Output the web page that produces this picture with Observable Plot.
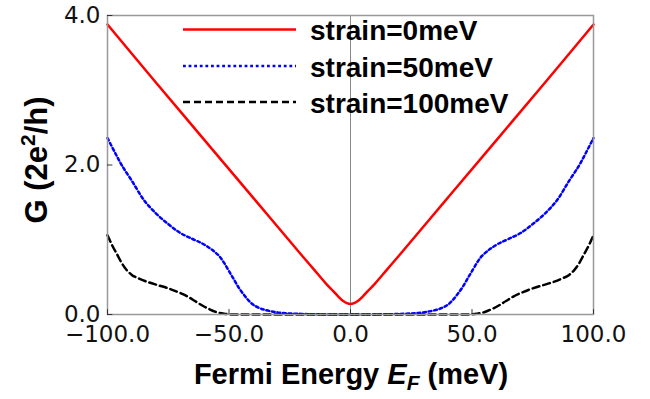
<!DOCTYPE html>
<html>
<head>
<meta charset="utf-8">
<script src="https://cdn.jsdelivr.net/npm/d3@7"></script>
<script src="https://cdn.jsdelivr.net/npm/@observablehq/plot@0.6"></script>
<style>
  html, body { margin: 0; padding: 0; background: white; }
  #chart { position: relative; width: 650px; height: 399px; }
</style>
</head>
<body>
<div id="chart"></div>
<script>
// ---- data ----
const xTicks = [-100, -50, 0, 50, 100];
const yTicks = [0, 2, 4];

const seriesNames = ["strain=0meV", "strain=50meV", "strain=100meV"];

const redE = [-100, -80, -60, -40, -20, -15, -10, -7, -5, -3, -1.5, 0, 1.5, 3, 5, 7, 10, 15, 20, 40, 60, 80, 100];
const redG = [3.88, 3.10, 2.33, 1.56, 0.79, 0.60, 0.41, 0.31, 0.24, 0.18, 0.152, 0.14, 0.152, 0.18, 0.24, 0.31, 0.41, 0.60, 0.79, 1.56, 2.33, 3.10, 3.88];

const blueE = [-100, -97, -94, -90, -85, -80, -75, -70, -65, -61, -58, -56, -54, -52, -50, -48, -46, -44, -42, -40, -37, -33, -28, -22, -15, 0,
               15, 22, 28, 33, 37, 40, 42, 44, 46, 48, 50, 52, 54, 56, 58, 61, 65, 70, 75, 80, 85, 90, 94, 97, 100];
const blueG = [2.36, 2.17, 1.99, 1.79, 1.53, 1.35, 1.21, 1.09, 1.01, 0.95, 0.89, 0.84, 0.78, 0.69, 0.58, 0.47, 0.36, 0.27, 0.19, 0.13, 0.08, 0.045, 0.02, 0.01, 0.003, 0.0,
               0.003, 0.01, 0.02, 0.045, 0.08, 0.13, 0.19, 0.27, 0.36, 0.47, 0.58, 0.69, 0.78, 0.84, 0.89, 0.95, 1.01, 1.09, 1.21, 1.35, 1.53, 1.79, 1.99, 2.17, 2.36];

const blackE = [-100, -98, -96, -94, -92, -90, -87, -83, -79, -75, -71, -67, -64, -61, -58, -55, -52, -48, -40, 0,
                40, 48, 52, 55, 58, 61, 64, 67, 71, 75, 79, 83, 87, 90, 92, 94, 96, 98, 100];
const blackG = [1.06, 0.92, 0.80, 0.68, 0.59, 0.53, 0.48, 0.43, 0.39, 0.35, 0.30, 0.24, 0.18, 0.12, 0.07, 0.03, 0.01, 0.0, 0.0, 0.0,
                0.0, 0.0, 0.01, 0.03, 0.07, 0.12, 0.18, 0.24, 0.30, 0.35, 0.39, 0.43, 0.48, 0.53, 0.59, 0.68, 0.80, 0.92, 1.06];

const toRows = (E, G) => E.map((e, i) => ({E: e, G: G[i]}));
const red = toRows(redE, redG);
const blue = toRows(blueE, blueG);
const black = toRows(blackE, blackG);

const styles = [
  {stroke: "#ff0000", dash: null},
  {stroke: "#0000ff", dash: "2.8,2.8"},
  {stroke: "#000000", dash: "7,4"}
];

const svg = Plot.plot({
  width: 650,
  height: 399,
  marginLeft: 107,
  marginRight: 57,
  marginTop: 15,
  marginBottom: 85,
  x: {domain: [-100, 100], axis: null},
  y: {domain: [0, 4], axis: null},
  style: {fontFamily: "DejaVu Sans", fontSize: "23px", color: "#111", background: "white", overflow: "visible"},
  marks: [
    Plot.ruleX([0], {stroke: "#888", strokeWidth: 1}),
    Plot.line(red, {x: "E", y: "G", stroke: styles[0].stroke, strokeWidth: 2.5, curve: "catmull-rom"}),
    Plot.line(blue, {x: "E", y: "G", stroke: styles[1].stroke, strokeWidth: 2.5, strokeDasharray: styles[1].dash, curve: "catmull-rom"}),
    Plot.line(black, {x: "E", y: "G", stroke: styles[2].stroke, strokeWidth: 2.5, strokeDasharray: styles[2].dash, curve: "monotone-x"}),
    Plot.frame({stroke: "#999", strokeWidth: 1.5}),
    Plot.ruleX(xTicks, {x: d => d, y1: 0, y2: 0.065, stroke: "#333", strokeWidth: 1}),
    Plot.ruleY(yTicks, {y: d => d, x1: -100, x2: -97.8, stroke: "#333", strokeWidth: 1}),
    Plot.axisX({ticks: xTicks, tickSize: 0, tickPadding: 11, tickFormat: d3.format(".1f"), label: null}),
    Plot.axisY({ticks: yTicks, tickSize: 0, tickPadding: 7, tickFormat: d3.format(".1f"), label: null})
  ]
});

document.getElementById("chart").appendChild(svg);

const s = d3.select(svg);
const bold = "Liberation Sans, Arial, sans-serif";

// x title
const xt = s.append("text")
  .attr("x", 351).attr("y", 384)
  .attr("text-anchor", "middle")
  .attr("font-family", bold).attr("font-weight", "bold").attr("font-size", 29)
  .attr("fill", "#000");
xt.append("tspan").text("Fermi Energy ");
xt.append("tspan").attr("font-style", "italic").text("E");
xt.append("tspan").attr("font-style", "italic").attr("font-size", 21).attr("dy", 6).text("F");
xt.append("tspan").attr("dy", -6).text(" (meV)");

// y title
const yt = s.append("text")
  .attr("transform", "translate(47,160) rotate(-90)")
  .attr("text-anchor", "middle")
  .attr("font-family", bold).attr("font-weight", "bold").attr("font-size", 31)
  .attr("fill", "#000");
yt.append("tspan").text("G (2e");
yt.append("tspan").attr("font-size", 21).attr("dy", -12).text("2");
yt.append("tspan").attr("dy", 12).text("/h)");

// legend
const lg = s.append("g");
const lineY = [29.5, 66, 102];
const textY = [40, 77, 113];
seriesNames.forEach((name, i) => {
  const l = lg.append("line")
    .attr("x1", 183).attr("x2", 296).attr("y1", lineY[i]).attr("y2", lineY[i])
    .attr("stroke", styles[i].stroke).attr("stroke-width", 2.5);
  if (styles[i].dash) l.attr("stroke-dasharray", styles[i].dash);
  lg.append("text")
    .attr("x", 310).attr("y", textY[i])
    .attr("text-anchor", "start")
    .attr("font-family", bold).attr("font-weight", "bold").attr("font-size", 28)
    .attr("fill", "#000")
    .text(name);
});
</script>
</body>
</html>
